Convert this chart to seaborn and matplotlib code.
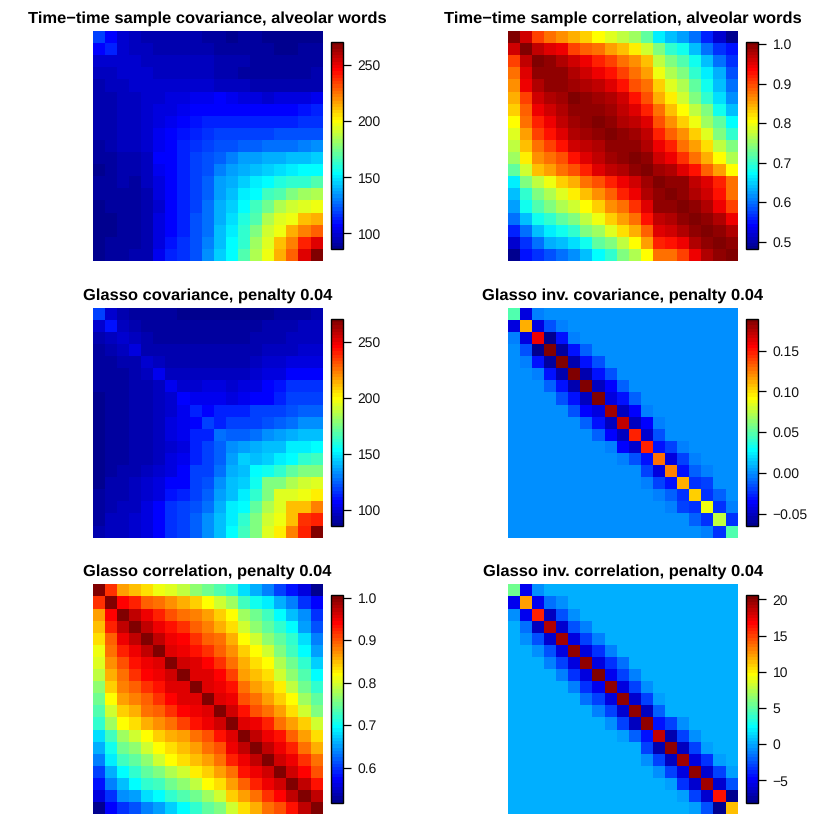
import numpy as np
import matplotlib
matplotlib.use("Agg")
import matplotlib.pyplot as plt
import seaborn as sns
from matplotlib.colors import LinearSegmentedColormap

# upper triangles, row by row starting on the diagonal
sample_cov = [
    [120, 108, 98, 95, 94, 94, 92, 92, 92, 91, 91, 88, 90, 90, 87, 87, 86, 87, 88],
    [112, 98, 95, 95, 92, 92, 93, 93, 93, 91, 89, 89, 89, 89, 88, 88, 89, 89],
    [99, 98, 97, 96, 95, 95, 95, 95, 94, 92, 92, 91, 91, 90, 90, 91, 91],
    [98, 98, 97, 96, 96, 96, 95, 93, 93, 91, 91, 91, 90, 90, 91, 92],
    [99, 100, 98, 98, 99, 99, 97, 96, 95, 93, 93, 92, 92, 92, 93],
    [100, 101, 101, 104, 105, 106, 104, 102, 101, 100, 101, 101, 103, 105],
    [103, 104, 108, 108, 108, 108, 106, 106, 108, 108, 108, 110, 112],
    [106, 110, 112, 112, 112, 112, 112, 113, 113, 114, 115, 117],
    [112, 116, 118, 118, 119, 118, 120, 121, 121, 122, 123],
    [120, 122, 123, 126, 126, 127, 129, 129, 130, 132],
    [126, 131, 135, 135, 138, 140, 141, 143, 145],
    [135, 138, 143, 146, 149, 151, 153, 155],
    [144, 150, 155, 158, 162, 163, 169],
    [155, 164, 169, 178, 182, 184],
    [175, 184, 190, 195, 198],
    [193, 198, 210, 215],
    [213, 224, 230],
    [239, 253],
    [270],
]

sample_cor = [
    [1.0, .96, .906, .874, .858, .847, .826, .808, .785, .768, .758, .718, .664, .643, .622, .595, .562, .52, .48],
    [1.0, .97, .955, .94, .906, .89, .874, .853, .837, .815, .78, .735, .70, .677, .637, .603, .57, .546],
    [1.0, .99, .98, .96, .94, .92, .906, .874, .86, .833, .775, .742, .71, .677, .637, .603, .57],
    [.995, .99, .975, .96, .945, .925, .906, .88, .853, .795, .765, .735, .70, .664, .63, .585],
    [.995, .985, .98, .965, .955, .93, .898, .874, .826, .79, .765, .72, .677, .637, .595],
    [1.0, .995, .985, .975, .96, .93, .898, .847, .815, .78, .742, .70, .657, .618],
    [.995, .99, .985, .97, .955, .92, .874, .837, .808, .77, .735, .677, .64],
    [1.0, .99, .98, .97, .95, .898, .86, .83, .795, .758, .72, .67],
    [1.0, .99, .985, .965, .92, .89, .86, .826, .785, .742, .70],
    [.995, .99, .98, .945, .92, .88, .85, .82, .77, .735],
    [1.0, .995, .96, .94, .91, .874, .847, .808, .765],
    [1.0, .985, .98, .955, .93, .89, .85, .808],
    [1.0, .995, .99, .97, .95, .92, .88],
    [1.0, .99, .98, .96, .93, .874],
    [1.0, .99, .98, .945, .906],
    [1.0, .995, .975, .945],
    [1.0, .995, .975],
    [1.0, .995],
    [1.0],
]

glasso_cov = [
    [120, 100, 94, 91, 89, 89, 89, 87, 87, 88, 88, 87, 87, 88, 88, 89, 90, 90, 92],
    [110, 95, 94, 91, 91, 89, 89, 89, 91, 89, 89, 89, 90, 92, 92, 94, 95, 95],
    [100, 95, 92, 91, 91, 91, 91, 91, 91, 91, 91, 92, 94, 94, 95, 97, 97],
    [102, 94, 92, 92, 92, 92, 92, 92, 92, 92, 94, 95, 97, 97, 98, 98],
    [99, 95, 94, 94, 94, 94, 94, 92, 92, 95, 98, 100, 102, 103, 103],
    [104, 96, 96, 96, 96, 96, 96, 96, 98, 102, 103, 108, 108, 108],
    [105, 98, 100, 102, 102, 100, 102, 103, 108, 111, 115, 115, 117],
    [108, 105, 105, 105, 103, 105, 108, 108, 114, 118, 120, 120],
    [114, 106, 113, 113, 113, 118, 118, 120, 123, 126, 126],
    [118, 113, 118, 118, 120, 123, 126, 129, 132, 132],
    [129, 126, 126, 129, 132, 135, 138, 141, 143],
    [132, 135, 138, 141, 143, 150, 152, 155],
    [145, 141, 145, 152, 155, 162, 165],
    [155, 156, 162, 172, 176, 178],
    [176, 178, 184, 190, 193],
    [193, 194, 198, 203],
    [210, 212, 222],
    [236, 239],
    [270],
]

glasso_cor = [
    [1.0, .914, .866, .852, .83, .81, .80, .785, .766, .75, .737, .717, .683, .66, .632, .608, .585, .556, .517],
    [1.0, .937, .922, .898, .883, .868, .854, .84, .815, .795, .776, .73, .707, .688, .66, .632, .60, .575],
    [1.0, .968, .951, .922, .905, .89, .876, .863, .844, .815, .776, .75, .73, .70, .666, .639, .60],
    [1.0, .968, .944, .929, .914, .898, .876, .854, .837, .795, .766, .744, .722, .693, .65, .615],
    [1.0, .968, .944, .937, .914, .898, .883, .854, .815, .795, .766, .744, .717, .678, .632],
    [1.0, .959, .951, .929, .914, .898, .868, .844, .815, .795, .76, .73, .70, .65],
    [1.0, .963, .955, .937, .918, .89, .854, .832, .815, .78, .75, .722, .673],
    [1.0, .959, .955, .937, .91, .866, .852, .83, .795, .766, .737, .70],
    [1.0, .959, .951, .929, .883, .866, .847, .822, .79, .75, .722],
    [1.0, .959, .944, .905, .883, .863, .844, .815, .776, .744],
    [1.0, .963, .929, .905, .883, .866, .832, .795, .76],
    [1.0, .959, .947, .922, .89, .866, .84, .795],
    [1.0, .968, .944, .929, .898, .866, .837],
    [1.0, .968, .944, .922, .89, .854],
    [1.0, .963, .944, .914, .883],
    [1.0, .963, .94, .905],
    [1.0, .968, .929],
    [1.0, .968],
    [1.0],
]

# inverse matrices are banded: diagonal and first three off-diagonals
inv_cov_diag = [.046, .1126, .157, .185, .185, .187, .187, .185, .18, .169, .149, .149, .129, .125, .1126, .1024, .088, .074, .046]
inv_cov_b1 = [-.045, -.043, -.065, -.06, -.057, -.056, -.053, -.045, -.053, -.05, -.047, -.033, -.045, -.033, -.025, -.025, -.025, -.025]
inv_cov_b2 = [-.005, -.017, -.03, -.03, -.033, -.033, -.036, -.033, -.036, -.036, -.014, -.0175, -.0175, -.0105, -.0175, -.0105, -.0055]
inv_cov_b3 = [0, -.002, -.003, -.0105, -.014, -.014, -.0105, -.0105, -.002, -.002, 0, -.002, -.002, -.002, 0, 0]

inv_cor_diag = [5.7, 12.4, 15.7, 19, 19.4, 20.1, 20, 20.3, 19.9, 20.1, 19.7, 20, 18.4, 19.7, 19.6, 19.7, 19.6, 16.5, 11.4]
inv_cor_b1 = [-5, -5, -6.5, -6.3, -5.5, -5.5, -5.5, -5, -5.5, -6, -6.5, -4.4, -7, -6.5, -5.8, -6.3, -6, -8]
inv_cor_b2 = [-.8, -1.7, -2.6, -2.6, -3.05, -3.5, -3.5, -3.05, -3.05, -3, -2.1, -3, -3, -3, -3.5, -3, -2.6]
inv_cor_b3 = [0, -.8, -.8, -1.2, -1.2, -1.2, -1.7, -1.2, -.8, -.3, 0, -.8, -.8, -.3, -.3, -.3]

titles = [
    "Time\u2212time sample covariance, alveolar words",
    "Time\u2212time sample correlation, alveolar words",
    "Glasso covariance, penalty 0.04",
    "Glasso inv. covariance, penalty 0.04",
    "Glasso correlation, penalty 0.04",
    "Glasso inv. correlation, penalty 0.04",
]
cov_ticks = [100, 150, 200, 250]
cor_ticks = [0.5, 0.6, 0.7, 0.8, 0.9, 1.0]
glasso_cor_ticks = [0.6, 0.7, 0.8, 0.9, 1.0]
inv_cov_ticks = [-0.05, 0.0, 0.05, 0.10, 0.15]
inv_cor_ticks = [-5, 0, 5, 10, 15, 20]
cov_labels = ["100", "150", "200", "250"]
cor_labels = ["0.5", "0.6", "0.7", "0.8", "0.9", "1.0"]
glasso_cor_labels = ["0.6", "0.7", "0.8", "0.9", "1.0"]
inv_cov_labels = ["\u22120.05", "0.00", "0.05", "0.10", "0.15"]
inv_cor_labels = ["\u22125", "0", "5", "10", "15", "20"]


def sym(upper):
    n = len(upper)
    m = np.zeros((n, n))
    for i, row in enumerate(upper):
        m[i, i:] = row
        m[i:, i] = row
    return m


def banded(*bands):
    m = np.diag(bands[0]).astype(float)
    for k, b in enumerate(bands[1:], start=1):
        m += np.diag(b, k) + np.diag(b, -k)
    return m


sns.set_style("white")
plt.rcParams["font.family"] = ["Liberation Sans", "DejaVu Sans"]
plt.rcParams["text.hinting"] = "none"

# same 64 levels as fields::tim.colors
tim = LinearSegmentedColormap.from_list(
    "tim",
    [(0, "#00008F"), (7 / 63, "#0000FF"), (23 / 63, "#00FFFF"),
     (39 / 63, "#FFFF00"), (55 / 63, "#FF0000"), (1, "#800000")],
    N=64,
)

panels = [
    (sym(sample_cov), 85.7, 270.5, cov_ticks, cov_labels),
    (sym(sample_cor), 0.48, 1.005, cor_ticks, cor_labels),
    (sym(glasso_cov), 85.7, 270.5, cov_ticks, cov_labels),
    (banded(inv_cov_diag, inv_cov_b1, inv_cov_b2, inv_cov_b3), -0.065, 0.1887, inv_cov_ticks, inv_cov_labels),
    (sym(glasso_cor), 0.517, 1.005, glasso_cor_ticks, glasso_cor_labels),
    (banded(inv_cor_diag, inv_cor_b1, inv_cor_b2, inv_cor_b3), -8.1, 20.55, inv_cor_ticks, inv_cor_labels),
]

W = 830.0
fig = plt.figure(figsize=(8.3, 8.3), dpi=100)
lefts = [92.7, 507.7]
tops = [31, 307.7, 584.3]

for n, (mat, lo, hi, ticks, labels) in enumerate(panels):
    x0 = lefts[n % 2]
    y0 = tops[n // 2]
    ax = fig.add_axes([x0 / W, 1 - (y0 + 230) / W, 230 / W, 230 / W])
    cax = fig.add_axes([(x0 + 238.5) / W, 1 - (y0 + 218.5) / W, 11.3 / W, 207.3 / W])
    sns.heatmap(mat, ax=ax, cbar_ax=cax, cmap=tim, vmin=lo, vmax=hi,
                xticklabels=False, yticklabels=False,
                cbar_kws={"ticks": ticks})
    ax.set_title(titles[n], fontsize=11.85, fontweight="bold", pad=6, color="black")
    cbar = ax.collections[0].colorbar
    cbar.outline.set_linewidth(1.0)
    cbar.outline.set_edgecolor("black")
    cbar.ax.set_yticks(ticks)
    cbar.ax.set_yticklabels(labels)
    cbar.ax.tick_params(right=True, length=5.8, width=0.9, color="black", labelsize=10, pad=5, labelcolor="#111111")

fig.savefig("out.png", dpi=100)
